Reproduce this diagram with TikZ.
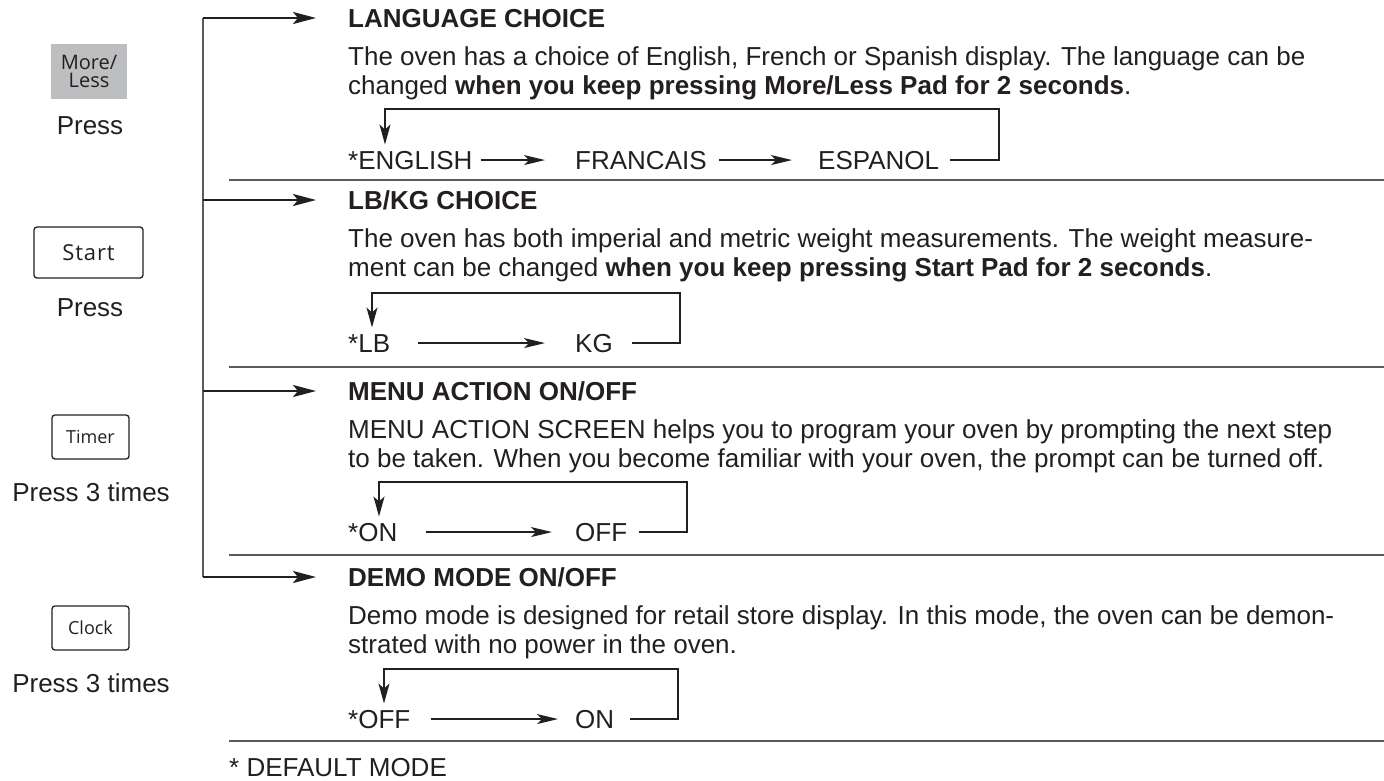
\documentclass[tikz,border=0pt]{standalone}
\usepackage{fontspec}
\setmainfont{Liberation Sans}
\newfontfamily\btnfont{Open Sans}
\usetikzlibrary{arrows.meta,calc}
\definecolor{ink}{HTML}{231F20}
\definecolor{rulec}{HTML}{5A5A5A}
\definecolor{padgray}{HTML}{BDBEC0}
\begin{document}
\begin{tikzpicture}[x=1pt,y=-1pt,
  bodytxt/.style={font=\fontsize{26}{29}\selectfont, text=ink, inner sep=0pt, anchor=base west},
  headtxt/.style={font=\fontsize{26}{29}\selectfont\bfseries, text=ink, inner sep=0pt, anchor=base west},
  rowtxt/.style={font=\fontsize{26}{29}\selectfont, text=ink, inner sep=0pt, text height=18.7pt, text depth=0pt, anchor=base west},
  presstxt/.style={font=\fontsize{26}{29}\selectfont, text=ink, inner sep=0pt, anchor=base},
  padbtn/.style={draw=ink, line width=1.3pt, rounded corners=3pt, text=ink, inner sep=0pt},
  bracketline/.style={draw=rulec, line width=2pt},
  mainarr/.style={draw=ink, line width=2.6pt, -{Stealth[length=23pt,width=12pt,inset=5pt]}},
  rowarr/.style={draw=ink, line width=1.4pt, -{Stealth[length=21pt,width=10pt,inset=5pt]}},
  loopline/.style={draw=ink, line width=1.4pt, line join=miter, -{Stealth[length=20pt,width=11pt,inset=5pt]}},
  seprule/.style={draw=rulec, line width=2pt}
]
\useasboundingbox (0,0) rectangle (1384,780);

% ---------- pads ----------
\node[fill=padgray, minimum width=76pt, minimum height=55pt, inner sep=0pt, align=center,
      font=\btnfont\fontsize{20}{18}\selectfont, text=ink] (more) at (89,71.5) {More/\\Less};
\node[presstxt] (p1) at (90,134.5) {Press};
\node[padbtn, minimum width=109pt, minimum height=51pt, font=\btnfont\fontsize{22}{24}\selectfont] (start) at (88.5,252.5) {\addfontfeature{LetterSpace=4}Start};
\node[presstxt] (p2) at (90,316.5) {Press};
\node[padbtn, minimum width=77pt, minimum height=44pt, font=\btnfont\fontsize{18}{20}\selectfont] (timer) at (90.5,437) {Timer};
\node[presstxt] (p3) at (91,501.5) {Press 3 times};
\node[padbtn, minimum width=77pt, minimum height=44pt, font=\btnfont\fontsize{18}{20}\selectfont] (clock) at (90.5,628) {Clock};
\node[presstxt] (p4) at (91,692.5) {Press 3 times};

% ---------- headings and text ----------
\node[headtxt] (h1) at (348,27.3) {LANGUAGE CHOICE};
\node[bodytxt] (t1a) at (348,65) {The oven has a choice of English, French or Spanish display. The language can be};
\node[bodytxt] (t1b) at (348,94) {changed \textbf{when you keep pressing More/Less Pad for 2 seconds}.};

\node[headtxt] (h2) at (348,209.3) {LB/KG CHOICE};
\node[bodytxt] (t2a) at (348,247) {The oven has both imperial and metric weight measurements. The weight measure-};
\node[bodytxt] (t2b) at (348,276) {ment can be changed \textbf{when you keep pressing Start Pad for 2 seconds}.};

\node[headtxt] (h3) at (348,400.3) {MENU ACTION ON/OFF};
\node[bodytxt] (t3a) at (348,438) {MENU ACTION SCREEN helps you to program your oven by prompting the next step};
\node[bodytxt] (t3b) at (348,467) {to be taken. When you become familiar with your oven, the prompt can be turned off.};

\node[headtxt] (h4) at (348,586.3) {DEMO MODE ON/OFF};
\node[bodytxt] (t4a) at (348,624) {Demo mode is designed for retail store display. In this mode, the oven can be demon-};
\node[bodytxt] (t4b) at (348,653) {strated with no power in the oven.};

% ---------- bracket and main arrows ----------
\coordinate (b1) at (203,18);
\coordinate (b2) at (203,200);
\coordinate (b3) at (203,391);
\coordinate (b4) at (203,577);
\draw[bracketline] (b1) -- (b4);
\draw[mainarr, shorten >=32pt] (b1) -- (b1 -| h1.west);
\draw[mainarr, shorten >=32pt] (b2) -- (b2 -| h2.west);
\draw[mainarr, shorten >=32pt] (b3) -- (b3 -| h3.west);
\draw[mainarr, shorten >=32pt] (b4) -- (b4 -| h4.west);

% ---------- section 1 row ----------
\node[rowtxt] (eng) at (348,169.4) {*ENGLISH};
\node[rowtxt] (fra) at (575,169.4) {FRANCAIS};
\node[rowtxt] (esp) at (818,169.4) {ESPANOL};
\draw[rowarr] ([xshift=8pt]eng.east) -- ([xshift=-30pt]fra.west);
\draw[rowarr] ([xshift=12pt]fra.east) -- ([xshift=-26pt]esp.west);
\coordinate (r1) at (999,109);
\coordinate (l1) at (385,109);
\draw[loopline] ([xshift=11pt]esp.east) -| (r1) -- (l1) -- ([yshift=6pt]l1 |- eng.north);

% ---------- section 2 row ----------
\node[rowtxt] (lb) at (348,352.4) {*LB};
\node[rowtxt] (kg) at (575,352.4) {KG};
\draw[rowarr] ([xshift=28pt]lb.east) -- ([xshift=-30pt]kg.west);
\coordinate (r2) at (680,293);
\coordinate (l2) at (372,293);
\draw[loopline] ([xshift=19pt]kg.east) -| (r2) -- (l2) -- ([yshift=6pt]l2 |- lb.north);

% ---------- section 3 row ----------
\node[rowtxt] (on3) at (348,541.4) {*ON};
\node[rowtxt] (off3) at (575,541.4) {OFF};
\draw[rowarr] ([xshift=28pt]on3.east) -- ([xshift=-23pt]off3.west);
\coordinate (r3) at (687,482);
\coordinate (l3) at (379,482);
\draw[loopline] ([xshift=12pt]off3.east) -| (r3) -- (l3) -- ([yshift=6pt]l3 |- on3.north);

% ---------- section 4 row ----------
\node[rowtxt] (off4) at (348,728.4) {*OFF};
\node[rowtxt] (on4) at (575,728.4) {ON};
\draw[rowarr] ([xshift=20pt]off4.east) -- ([xshift=-17pt]on4.west);
\coordinate (r4) at (678,669);
\coordinate (l4) at (384,669);
\draw[loopline] ([xshift=16pt]on4.east) -| (r4) -- (l4) -- ([yshift=6pt]l4 |- off4.north);

% ---------- separators ----------
\draw[seprule] (229,180) -- (1384,180);
\draw[seprule] (229,367) -- (1384,367);
\draw[seprule] (229,555) -- (1384,555);
\draw[seprule] (229,741) -- (1384,741);

\node[bodytxt] (dflt) at (229,776) {* DEFAULT MODE};
\end{tikzpicture}
\end{document}
